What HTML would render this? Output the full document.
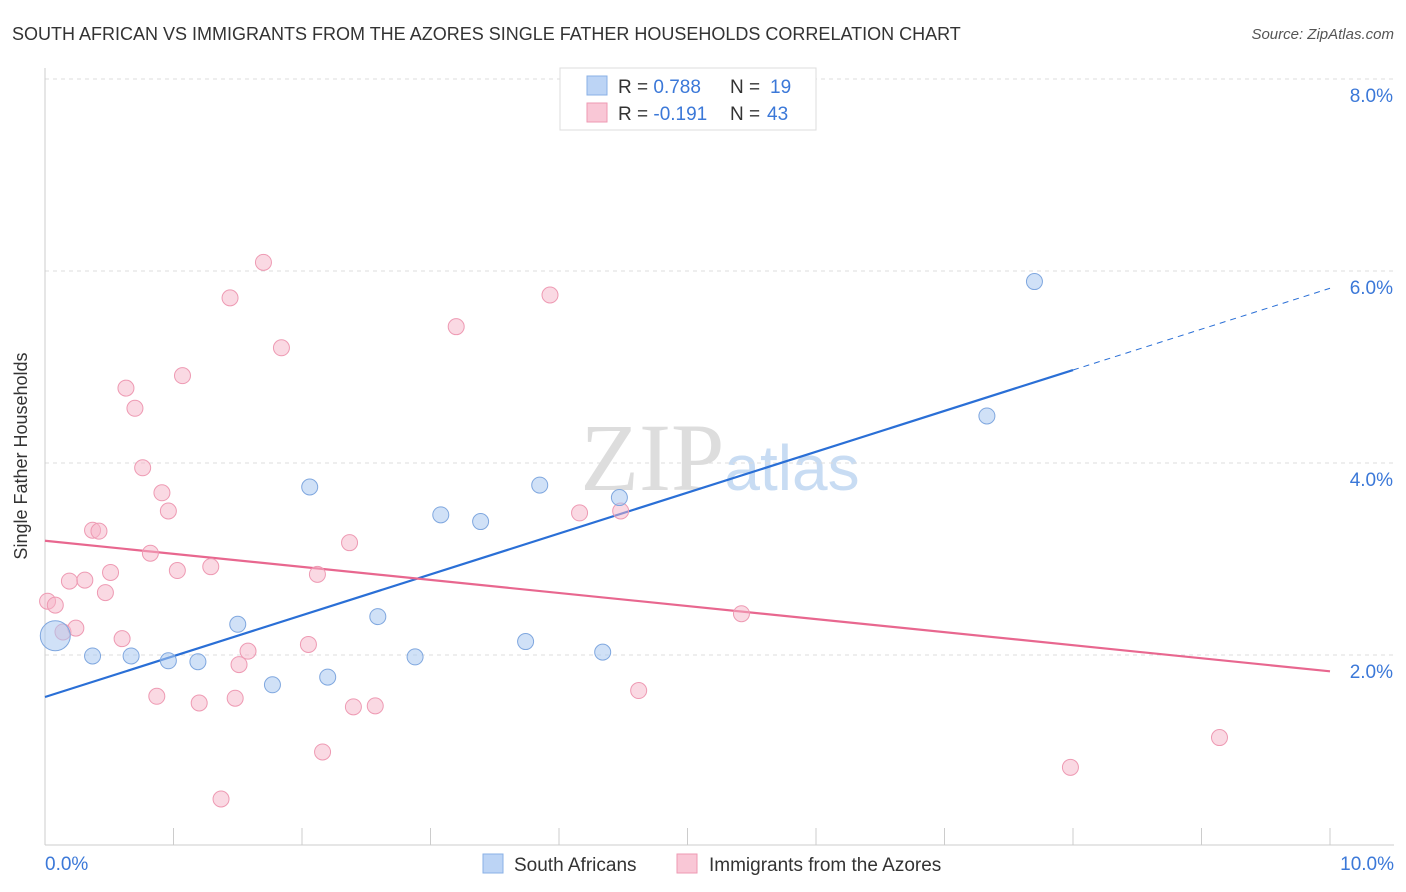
<!DOCTYPE html>
<html><head><meta charset="utf-8"><style>
body{margin:0;background:#fff;font-family:"Liberation Sans",sans-serif;}
svg{display:block}
</style></head><body>
<svg id="chart" width="1406" height="892" font-family="Liberation Sans, sans-serif">
<text x="12" y="40" font-size="18" fill="#333">SOUTH AFRICAN VS IMMIGRANTS FROM THE AZORES SINGLE FATHER HOUSEHOLDS CORRELATION CHART</text>
<text x="1394" y="39" font-size="15" fill="#555" text-anchor="end" font-style="italic">Source: ZipAtlas.com</text>
<text x="27" y="456" font-size="18" fill="#333" text-anchor="middle" transform="rotate(-90 27 456)">Single Father Households</text>
<text x="720" y="490" font-size="96" fill="#ddd" text-anchor="middle" font-family="Liberation Serif, serif">ZIP<tspan fill="#c8dcf3" font-family="Liberation Sans, sans-serif" font-size="64">atlas</tspan></text>
<g id="grid"></g><g id="axes"></g><g id="lines"></g><g id="pts"></g>
<g>
<rect x="560" y="68" width="256" height="62" fill="#fff" stroke="#ddd"/>
<rect x="587" y="76" width="20" height="19" fill="#bcd4f5" stroke="#8ab0e6"/>
<rect x="587" y="103" width="20" height="19" fill="#f9c7d6" stroke="#ee9ab3"/>
<text x="618" y="93" font-size="19" fill="#333">R = <tspan fill="#3b78d8">0.788</tspan><tspan x="730">N = </tspan><tspan fill="#3b78d8" x="770">19</tspan></text>
<text x="618" y="120" font-size="19" fill="#333">R = <tspan fill="#3b78d8">-0.191</tspan><tspan x="730">N = </tspan><tspan fill="#3b78d8" x="767">43</tspan></text>
</g>
<g>
<rect x="483" y="854" width="20" height="19" fill="#bcd4f5" stroke="#8ab0e6"/>
<text x="514" y="871" font-size="19" fill="#333">South Africans</text>
<rect x="677" y="854" width="20" height="19" fill="#f9c7d6" stroke="#ee9ab3"/>
<text x="709" y="871" font-size="19" fill="#333">Immigrants from the Azores</text>
</g>
</svg>
<script>
const blueX=[0.08,0.37,0.67,0.96,1.19,1.50,1.77,2.06,2.20,2.59,2.88,3.08,3.39,3.74,3.85,4.34,4.47,7.33,7.70];
const blueY=[2.20,1.99,1.99,1.94,1.93,2.32,1.69,3.75,1.77,2.40,1.98,3.46,3.39,2.14,3.77,2.03,3.64,4.49,5.89];
const pinkX=[0.02,0.08,0.14,0.19,0.24,0.31,0.37,0.42,0.47,0.51,0.60,0.63,0.70,0.76,0.82,0.87,0.91,0.96,1.03,1.07,1.20,1.29,1.37,1.44,1.48,1.51,1.58,1.70,1.84,2.05,2.12,2.16,2.37,2.40,2.57,3.20,3.93,4.16,4.48,4.62,5.42,7.98,9.14];
const pinkY=[2.56,2.52,2.24,2.77,2.28,2.78,3.30,3.29,2.65,2.86,2.17,4.78,4.57,3.95,3.06,1.57,3.69,3.50,2.88,4.91,1.50,2.92,0.50,5.72,1.55,1.90,2.04,6.09,5.20,2.11,2.84,0.99,3.17,1.46,1.47,5.42,5.75,3.48,3.50,1.63,2.43,0.83,1.14];
const blueTrend=[1.5625,5.82];
const pinkTrend=[3.19,1.83];
const yTicks=[2,4,6,8];
const yTickLabels=["2.0%","4.0%","6.0%","8.0%"];
const xTickLabels=["0.0%","10.0%"];
const NS="http://www.w3.org/2000/svg";
const sx=v=>45+v*128.5, sy=v=>847-v*96;
function mk(p,t,a){const e=document.createElementNS(NS,t);for(const k in a)e.setAttribute(k,a[k]);document.getElementById(p).appendChild(e);return e;}
yTicks.forEach((t,i)=>{
 const g=mk('grid','line',{x1:45,x2:1394,y1:sy(t),y2:sy(t),stroke:'#ddd','stroke-dasharray':'4,4'});
 
 
 const l=mk('axes','text',{x:1393,y:sy(t)+23,'font-size':19,fill:'#3b78d8','text-anchor':'end'});
 l.textContent=yTickLabels[i];
 
 
});
mk('axes','line',{x1:45,x2:45,y1:68,y2:845,stroke:'#ccc'});
mk('axes','line',{x1:45,x2:1394,y1:845,y2:845,stroke:'#ccc'});
for(let k=1;k<=10;k++){const t=mk('axes','line',{x1:sx(k),x2:sx(k),y1:828,y2:845,stroke:'#ccc'});
 
 }
const x0=mk('axes','text',{x:45,y:870,'font-size':19,fill:'#3b78d8'});x0.textContent=xTickLabels[0];


const x1=mk('axes','text',{x:1394,y:870,'font-size':19,fill:'#3b78d8','text-anchor':'end'});x1.textContent=xTickLabels[1];


const bAt=x=>blueTrend[0]+(blueTrend[1]-blueTrend[0])*x/10;
const bl=mk('lines','line',{x1:sx(0),y1:sy(bAt(0)),x2:sx(8),y2:sy(bAt(8)),stroke:'#2a6fd6','stroke-width':2.2});


const bd=mk('lines','line',{x1:sx(8),y1:sy(bAt(8)),x2:sx(10),y2:sy(bAt(10)),stroke:'#2a6fd6','stroke-width':1,'stroke-dasharray':'6,5'});


const pl=mk('lines','line',{x1:sx(0),y1:sy(pinkTrend[0]),x2:sx(10),y2:sy(pinkTrend[1]),stroke:'#e8678f','stroke-width':2.2});


pinkX.forEach((x,i)=>{const c=mk('pts','circle',{cx:sx(x),cy:sy(pinkY[i]),r:8,fill:'rgba(246,180,200,0.5)',stroke:'#ee9ab3','stroke-width':1});
 
 });
blueX.forEach((x,i)=>{const c=mk('pts','circle',{cx:sx(x),cy:sy(blueY[i]),r:i===0?15:8,fill:'rgba(170,200,240,0.55)',stroke:'#7fa7df','stroke-width':1});
 
 });
</script>
</body></html>
